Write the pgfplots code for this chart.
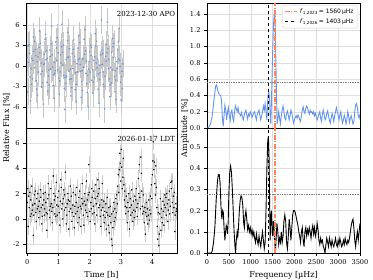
\documentclass[border=0pt]{standalone}
\usepackage{fontspec}
\setmainfont{DejaVu Serif}
\newfontfamily\dvs{DejaVu Sans}
\usepackage{pgfplots}
\usepackage{pgfplotstable}
\pgfplotsset{compat=1.18}
\definecolor{cfblue}{RGB}{100,149,237}
\definecolor{coralc}{RGB}{255,130,90}
\definecolor{gridc}{RGB}{222,222,222}

\pgfplotstableread{
t f
0.000 1.2
0.015 -3.8
0.030 2.9
0.045 0.5
0.060 3.1
0.075 1.8
0.090 -1.6
0.105 -5.1
0.120 -0.4
0.135 -2.7
0.150 1.1
0.165 -1.9
0.180 0.8
0.195 4.2
0.210 2.1
0.225 3.6
0.240 -0.3
0.255 2.4
0.270 1.5
0.285 -2.2
0.300 -3.4
0.315 0.6
0.330 -4.3
0.345 1.3
0.360 -0.9
0.375 2.7
0.390 5.1
0.405 1.9
0.420 3.3
0.435 -1.2
0.450 0.4
0.465 -3.1
0.480 -0.8
0.495 -2.5
0.510 -5.6
0.525 0.2
0.540 1.7
0.555 0.3
0.570 3.9
0.585 4.6
0.600 0.9
0.615 2.2
0.630 -2.4
0.645 1.1
0.660 -3.7
0.675 -1.5
0.690 -0.6
0.705 -2.8
0.720 2.3
0.735 1.4
0.750 -0.5
0.765 3.2
0.780 5.8
0.795 1.6
0.810 -0.2
0.825 -2.9
0.840 -1.3
0.855 -4.8
0.870 0.5
0.885 -1.1
0.900 -0.7
0.915 3.5
0.930 2.6
0.945 0.8
0.960 4.1
0.975 -0.6
0.990 1.9
1.005 -1.8
1.020 -4.1
1.035 -2.2
1.050 -0.9
1.065 1.6
1.080 0.4
1.095 2.8
1.110 6.1
1.125 2.0
1.140 0.1
1.155 3.0
1.170 -1.4
1.185 -3.3
1.200 -6.4
1.215 -1.7
1.230 -2.6
1.245 0.9
1.260 -1.5
1.275 1.2
1.290 3.7
1.305 4.9
1.320 1.3
1.335 -0.8
1.350 2.5
1.365 -2.0
1.380 -0.5
1.395 -4.4
1.410 -1.9
1.425 -3.2
1.440 1.8
1.455 -0.4
1.470 2.4
1.485 3.8
1.500 0.6
1.515 1.4
1.530 -3.5
1.545 -1.0
1.560 -2.7
1.575 -5.2
1.590 0.3
1.605 -0.9
1.620 2.6
1.635 0.9
1.650 4.4
1.665 1.1
1.680 3.4
1.695 0.2
1.710 -0.8
1.725 -4.6
1.740 -2.3
1.755 -0.7
1.770 -3.6
1.785 1.0
1.800 -0.2
1.815 3.9
1.830 1.7
1.845 5.3
1.860 2.2
1.875 -1.1
1.890 0.7
1.905 -2.6
1.920 -3.9
1.935 -1.4
1.950 -6.0
1.965 -0.5
1.980 0.6
1.995 2.1
2.010 -0.9
2.025 3.0
2.040 1.5
2.055 2.7
2.070 -2.1
2.085 -0.6
2.100 -4.0
2.115 -2.4
2.130 0.8
2.145 -1.7
2.160 1.3
2.175 4.7
2.190 2.9
2.205 0.4
2.220 3.6
2.235 -0.3
2.250 1.0
2.265 -3.4
2.280 -1.2
2.295 -5.5
2.310 -2.0
2.325 0.1
2.340 -1.0
2.355 1.6
2.370 6.7
2.385 2.3
2.400 0.2
2.415 1.8
2.430 -2.7
2.445 -0.9
2.460 -3.0
2.475 -6.3
2.490 -1.5
2.505 1.4
2.520 0.7
2.535 3.1
2.550 1.9
2.565 6.4
2.580 2.5
2.595 -0.4
2.610 0.9
2.625 -1.9
2.640 -4.5
2.655 -2.8
2.670 -0.3
2.685 -2.5
2.700 2.0
2.715 -0.6
2.730 4.0
2.745 2.8
2.760 1.2
2.775 3.3
2.790 -1.6
2.805 -3.8
2.820 -0.7
2.835 -2.1
2.850 -4.9
2.865 0.6
2.880 -0.4
2.895 2.3
2.910 3.5
2.925 1.0
2.940 5.5
2.955 0.8
2.970 -0.1
2.985 -2.4
3.000 -5.0
3.015 -1.6
3.030 -0.8
3.045 -3.3
3.060 0.3
}\toplc

\pgfplotstableread{
t f
0.000 1.3
0.016 2.4
0.032 -0.6
0.048 1.8
0.064 0.9
0.080 2.1
0.096 0.2
0.112 1.5
0.128 0.4
0.144 2.6
0.160 0.7
0.176 1.1
0.192 -1.3
0.208 0.3
0.224 1.9
0.240 1.2
0.256 2.2
0.272 0.5
0.288 -0.2
0.304 1.6
0.320 0.8
0.336 2.0
0.352 1.0
0.368 0.1
0.384 1.4
0.400 0.6
0.416 2.3
0.432 1.7
0.448 0.9
0.464 -0.4
0.480 0.2
0.496 1.1
0.512 2.0
0.528 1.5
0.544 0.3
0.560 0.8
0.576 2.1
0.592 1.3
0.608 0.5
0.624 -0.9
0.640 0.4
0.656 1.6
0.672 2.8
0.688 1.9
0.704 0.7
0.720 0.1
0.736 1.0
0.752 2.4
0.768 1.2
0.784 0.6
0.800 -0.3
0.816 0.9
0.832 3.4
0.848 2.0
0.864 1.5
0.880 0.4
0.896 1.8
0.912 0.2
0.928 2.9
0.944 1.1
0.960 0.3
0.976 1.7
0.992 1.0
1.008 2.2
1.024 0.5
1.040 -0.5
1.056 1.4
1.072 3.1
1.088 2.5
1.104 0.8
1.120 1.2
1.136 0.0
1.152 1.6
1.168 2.3
1.184 0.7
1.200 1.9
1.216 3.7
1.232 0.9
1.248 -0.4
1.264 0.3
1.280 1.2
1.296 2.0
1.312 1.5
1.328 -0.8
1.344 0.6
1.360 1.4
1.376 2.6
1.392 0.8
1.408 1.8
1.424 -0.2
1.440 0.5
1.456 1.1
1.472 2.1
1.488 0.2
1.504 -0.7
1.520 1.0
1.536 1.9
1.552 0.4
1.568 1.3
1.584 2.5
1.600 0.6
1.616 -0.3
1.632 0.9
1.648 1.7
1.664 0.1
1.680 2.2
1.696 1.0
1.712 -0.6
1.728 0.8
1.744 1.6
1.760 2.8
1.776 1.2
1.792 0.3
1.808 -0.5
1.824 1.4
1.840 2.0
1.856 0.7
1.872 1.1
1.888 3.0
1.904 0.5
1.920 1.5
1.936 0.2
1.952 1.9
1.968 4.3
1.984 2.1
2.000 0.6
2.016 -0.2
2.032 1.3
2.048 0.8
2.064 2.4
2.080 1.7
2.096 0.4
2.112 1.0
2.128 2.2
2.144 0.5
2.160 -0.4
2.176 1.6
2.192 2.7
2.208 1.2
2.224 0.3
2.240 1.8
2.256 3.1
2.272 2.0
2.288 0.9
2.304 2.4
2.320 1.1
2.336 0.2
2.352 -0.6
2.368 0.7
2.384 1.5
2.400 2.8
2.416 0.9
2.432 0.3
2.448 1.4
2.464 -0.3
2.480 0.6
2.496 0.1
2.512 1.2
2.528 -0.8
2.544 0.5
2.560 1.7
2.576 0.3
2.592 -0.5
2.608 0.9
2.624 -1.1
2.640 0.2
2.656 1.0
2.672 -0.3
2.688 -1.6
2.704 0.4
2.720 -2.1
2.736 -0.7
2.752 0.6
2.768 1.3
2.784 -0.2
2.800 0.8
2.816 0.1
2.832 1.6
2.848 0.5
2.864 1.9
2.880 1.2
2.896 2.6
2.912 3.5
2.928 2.1
2.944 3.9
2.960 5.2
2.976 4.4
2.992 3.0
3.008 5.5
3.024 4.1
3.040 2.4
3.056 3.3
3.072 4.8
3.088 2.7
3.104 1.5
3.120 2.2
3.136 1.0
3.152 0.4
3.168 1.8
3.184 0.9
3.200 -0.3
3.216 1.3
3.232 0.6
3.248 2.0
3.264 -0.8
3.280 0.9
3.296 1.6
3.312 0.3
3.328 1.1
3.344 2.3
3.360 0.5
3.376 -0.2
3.392 1.4
3.408 0.7
3.424 0.1
3.440 1.8
3.456 0.6
3.472 1.5
3.488 2.4
3.504 0.9
3.520 0.2
3.536 1.2
3.552 3.2
3.568 2.0
3.584 4.3
3.600 1.7
3.616 0.8
3.632 4.9
3.648 3.6
3.664 2.2
3.680 1.0
3.696 0.4
3.712 1.9
3.728 0.6
3.744 -0.3
3.760 0.9
3.776 -1.2
3.792 0.5
3.808 1.3
3.824 0.2
3.840 0.8
3.856 -0.4
3.872 0.3
3.888 1.5
3.904 -0.1
3.920 0.7
3.936 1.8
3.952 0.4
3.968 2.7
3.984 1.6
4.000 3.5
4.016 4.6
4.032 6.1
4.048 3.9
4.064 4.5
4.080 2.8
4.096 1.9
4.112 4.2
4.128 2.5
4.144 0.9
4.160 -0.6
4.176 -1.6
4.192 0.5
4.208 -2.1
4.224 -1.2
4.240 0.4
4.256 1.6
4.272 -0.9
4.288 0.8
4.304 0.1
4.320 -0.3
4.336 1.4
4.352 0.6
4.368 -0.5
4.384 1.1
4.400 1.9
4.416 0.9
4.432 1.7
4.448 0.3
4.464 2.0
4.480 1.2
4.496 -0.2
4.512 0.7
4.528 1.5
4.544 2.2
4.560 0.4
4.576 1.0
4.592 2.9
4.608 2.4
4.624 3.0
4.640 1.3
4.656 0.5
4.672 1.8
4.688 0.9
4.704 2.1
4.720 -1.0
4.736 0.3
4.752 1.2
4.768 0.6
4.784 0.8
}\botlc

\pgfplotstableread{
f a
0 0
20 0.0
40 0.01
80 0.05
120 0.15
160 0.35
200 0.52
220 0.53
250 0.45
280 0.41
310 0.40
330 0.35
350 0.15
370 0.02
390 0.15
410 0.28
430 0.22
450 0.10
470 0.20
490 0.25
510 0.15
530 0.09
550 0.20
570 0.22
590 0.12
610 0.08
630 0.20
650 0.27
670 0.24
690 0.20
710 0.25
730 0.18
750 0.17
770 0.15
790 0.19
810 0.14
830 0.10
850 0.15
870 0.20
890 0.22
910 0.16
930 0.11
950 0.17
970 0.15
990 0.20
1010 0.18
1030 0.13
1050 0.16
1070 0.19
1090 0.20
1110 0.14
1130 0.10
1150 0.17
1170 0.20
1190 0.22
1210 0.15
1230 0.10
1250 0.15
1270 0.20
1290 0.27
1310 0.22
1330 0.30
1350 0.20
1370 0.10
1390 0.35
1410 0.45
1430 0.38
1450 0.10
1460 0.05
1480 0.45
1500 0.90
1520 1.25
1540 1.42
1555 1.38
1570 1.00
1590 0.40
1605 0.05
1620 0.10
1640 0.20
1660 0.12
1680 0.05
1700 0.15
1720 0.22
1740 0.27
1760 0.20
1780 0.12
1800 0.10
1820 0.18
1840 0.21
1860 0.16
1880 0.10
1900 0.15
1920 0.22
1940 0.18
1960 0.12
1980 0.06
2000 0.10
2020 0.13
2040 0.15
2060 0.12
2080 0.16
2100 0.14
2120 0.10
2140 0.08
2160 0.15
2180 0.22
2200 0.26
2220 0.20
2240 0.18
2260 0.24
2280 0.27
2300 0.25
2320 0.20
2340 0.17
2360 0.22
2380 0.19
2400 0.20
2420 0.17
2440 0.20
2460 0.15
2480 0.18
2500 0.14
2520 0.10
2540 0.13
2560 0.17
2580 0.20
2600 0.12
2620 0.08
2640 0.17
2660 0.22
2680 0.16
2700 0.10
2720 0.12
2740 0.18
2760 0.21
2780 0.15
2800 0.10
2820 0.06
2840 0.12
2860 0.18
2880 0.14
2900 0.08
2920 0.15
2940 0.20
2960 0.25
2980 0.20
3000 0.16
3020 0.10
3040 0.16
3060 0.20
3080 0.12
3100 0.06
3120 0.10
3140 0.16
3160 0.12
3180 0.05
3200 0.10
3220 0.20
3240 0.15
3260 0.07
3280 0.12
3300 0.15
3320 0.10
3340 0.05
3360 0.08
3380 0.20
3400 0.28
3420 0.30
3440 0.25
3460 0.15
3480 0.12
3500 0.17
}\topft

\pgfplotstableread{
f a
0 0
100 0
120 0.01
150 0.05
180 0.12
210 0.25
240 0.34
260 0.37
280 0.37
300 0.33
320 0.22
340 0.16
360 0.20
375 0.19
390 0.12
410 0.06
425 0.10
440 0.13
455 0.12
470 0.09
485 0.15
500 0.28
520 0.38
540 0.41
560 0.38
580 0.30
600 0.20
620 0.10
640 0.03
655 0.00
670 0.06
690 0.10
705 0.08
720 0.12
740 0.20
760 0.25
780 0.27
800 0.26
820 0.22
840 0.14
855 0.12
870 0.17
890 0.20
910 0.16
930 0.11
950 0.13
970 0.10
990 0.12
1010 0.09
1030 0.11
1050 0.08
1070 0.10
1090 0.07
1110 0.05
1130 0.09
1150 0.06
1170 0.04
1190 0.08
1210 0.05
1230 0.03
1250 0.07
1270 0.10
1290 0.06
1310 0.02
1330 0.05
1350 0.20
1370 0.40
1390 0.53
1405 0.55
1420 0.45
1435 0.20
1445 0.06
1460 0.18
1475 0.20
1490 0.10
1505 0.08
1520 0.15
1535 0.12
1550 0.05
1565 0.00
1580 0.06
1600 0.14
1620 0.10
1640 0.04
1660 0.07
1680 0.05
1700 0.10
1720 0.05
1740 0.08
1760 0.15
1780 0.18
1800 0.15
1820 0.05
1840 0.02
1860 0.08
1880 0.16
1900 0.12
1920 0.06
1940 0.12
1960 0.18
1980 0.20
2000 0.20
2020 0.19
2040 0.17
2060 0.15
2080 0.13
2100 0.10
2120 0.08
2140 0.05
2160 0.10
2180 0.12
2200 0.06
2220 0.03
2240 0.10
2260 0.12
2280 0.08
2300 0.11
2320 0.09
2340 0.12
2360 0.10
2380 0.07
2400 0.11
2420 0.13
2440 0.09
2460 0.12
2480 0.08
2500 0.10
2520 0.14
2540 0.11
2560 0.06
2580 0.04
2600 0.07
2620 0.05
2640 0.06
2660 0.03
2680 0.02
2700 0.00
2720 0.04
2740 0.07
2760 0.05
2780 0.03
2800 0.07
2820 0.05
2840 0.03
2860 0.06
2880 0.04
2900 0.03
2920 0.05
2940 0.07
2960 0.04
2980 0.03
3000 0.06
3020 0.04
3040 0.07
3060 0.05
3080 0.03
3100 0.04
3120 0.06
3140 0.04
3160 0.07
3180 0.05
3200 0.04
3220 0.06
3240 0.05
3260 0.07
3280 0.10
3300 0.13
3320 0.15
3340 0.16
3360 0.12
3380 0.06
3400 0.03
3420 0.07
3440 0.10
3460 0.06
3480 0.10
3500 0.14
}\botft

\pgfplotsset{
  base/.style={
    scale only axis, height=125pt,
    axis line style={line width=0.6pt},
    grid=major, major grid style={gridc, line width=0.4pt},
    tick pos=left, tick align=outside, major tick length=3pt,
    tick style={black, line width=0.5pt},
    ticklabel style={font=\fontsize{6.6}{8}\selectfont},
    /pgf/number format/assume math mode=true,
    /pgf/number format/1000 sep={},
    label style={font=\fontsize{8}{9}\selectfont},
  },
  blackvline/.style={black, dashed, line width=0.8pt},
  coralvline/.style={color=coralc, solid, dash pattern=on 4.5pt off 1.6pt on 1pt off 1.6pt, line width=1.5pt},
}

\begin{document}
\begin{tikzpicture}
\useasboundingbox (0pt,0pt) rectangle (373pt,280pt);

% top-left light curve
\begin{axis}[base, at={(26pt,152pt)}, anchor=south west, width=151pt,
  xmin=-0.04, xmax=4.79, ymin=-9.1, ymax=9.2,
  xtick={0,1,2,3,4}, xticklabels={}, xtick style={draw=none},
  ytick={-6,-3,0,3,6}]
\addplot[draw=none, mark=none, forget plot,
  error bars/.cd, y dir=both, y fixed=2.0, error mark=none,
  error bar style={draw=black!22, line width=0.35pt}] table[x=t,y=f] {\toplc};
\addplot[only marks, mark=*, mark size=0.55pt, cfblue] table[x=t,y=f] {\toplc};
\node[anchor=north east, font=\fontsize{7}{8}\selectfont, inner sep=1pt] at (rel axis cs:0.995,0.945) {2023-12-30 APO};
\end{axis}

% bottom-left light curve
\begin{axis}[base, at={(26pt,27pt)}, anchor=south west, width=151pt,
  xmin=-0.04, xmax=4.79, ymin=-2.7, ymax=7.2,
  xtick={0,1,2,3,4}, ytick={-2,0,2,4,6},
  xlabel={Time [h]}]
\addplot[draw=none, mark=none, forget plot,
  error bars/.cd, y dir=both, y fixed=0.65, error mark=none,
  error bar style={draw=black!20, line width=0.35pt}] table[x=t,y=f] {\botlc};
\addplot[only marks, mark=*, mark size=0.5pt, black] table[x=t,y=f] {\botlc};
\node[anchor=north east, font=\fontsize{7}{8}\selectfont, inner sep=1pt] at (rel axis cs:0.995,0.945) {2026-01-17 LDT};
\end{axis}

% top-right periodogram
\begin{axis}[base, at={(207pt,152pt)}, anchor=south west, width=153pt,
  xmin=0, xmax=3500, ymin=0, ymax=1.535,
  xtick={0,500,...,3500}, xticklabels={}, xtick style={draw=none},
  ytick={0,0.2,...,1.41},
  yticklabel style={/pgf/number format/.cd, fixed, fixed zerofill, precision=1},
  legend style={at={(0.985,0.985)}, anchor=north east, draw=black!20, rounded corners=1.5pt,
    font=\dvs\fontsize{6}{7}\selectfont, inner xsep=2pt, inner ysep=1.5pt, row sep=0pt,
    cells={anchor=west}},
  legend image code/.code={\draw[#1] (0pt,0pt) -- (12pt,0pt);}]
\addplot[cfblue, line width=0.9pt, forget plot] table[x=f,y=a] {\topft};
\addplot[gray, densely dotted, line width=0.7pt, forget plot] coordinates {(0,0.565) (3500,0.565)};
\addplot[coralvline] coordinates {(1560,0) (1560,1.535)};
\addlegendentry{\textit{f}\raisebox{-0.4ex}{\fontsize{4.2}{4.2}\selectfont 1,2023}$\,$= 1560\,µHz}
\addplot[blackvline] coordinates {(1403,0) (1403,1.535)};
\addlegendentry{\textit{f}\raisebox{-0.4ex}{\fontsize{4.2}{4.2}\selectfont 1,2026}$\,$= 1403\,µHz}
\end{axis}

% bottom-right periodogram
\begin{axis}[base, at={(207pt,27pt)}, anchor=south west, width=153pt,
  xmin=0, xmax=3500, ymin=0, ymax=0.59,
  xtick={0,500,...,3500},
  ytick={0,0.1,...,0.51},
  yticklabel style={/pgf/number format/.cd, fixed, fixed zerofill, precision=1},
  xlabel={Frequency [µHz]}]
\addplot[black, line width=0.9pt] table[x=f,y=a] {\botft};
\addplot[gray, densely dotted, line width=0.7pt] coordinates {(0,0.277) (3500,0.277)};
\addplot[blackvline] coordinates {(1403,0) (1403,0.59)};
\addplot[coralvline] coordinates {(1560,0) (1560,0.59)};
\end{axis}

\node[rotate=90, font=\fontsize{8}{9}\selectfont] at (6.7pt,152pt) {Relative Flux [\%]};
\node[rotate=90, font=\fontsize{8}{9}\selectfont] at (185pt,152pt) {Amplitude [\%]};
\end{tikzpicture}
\end{document}
